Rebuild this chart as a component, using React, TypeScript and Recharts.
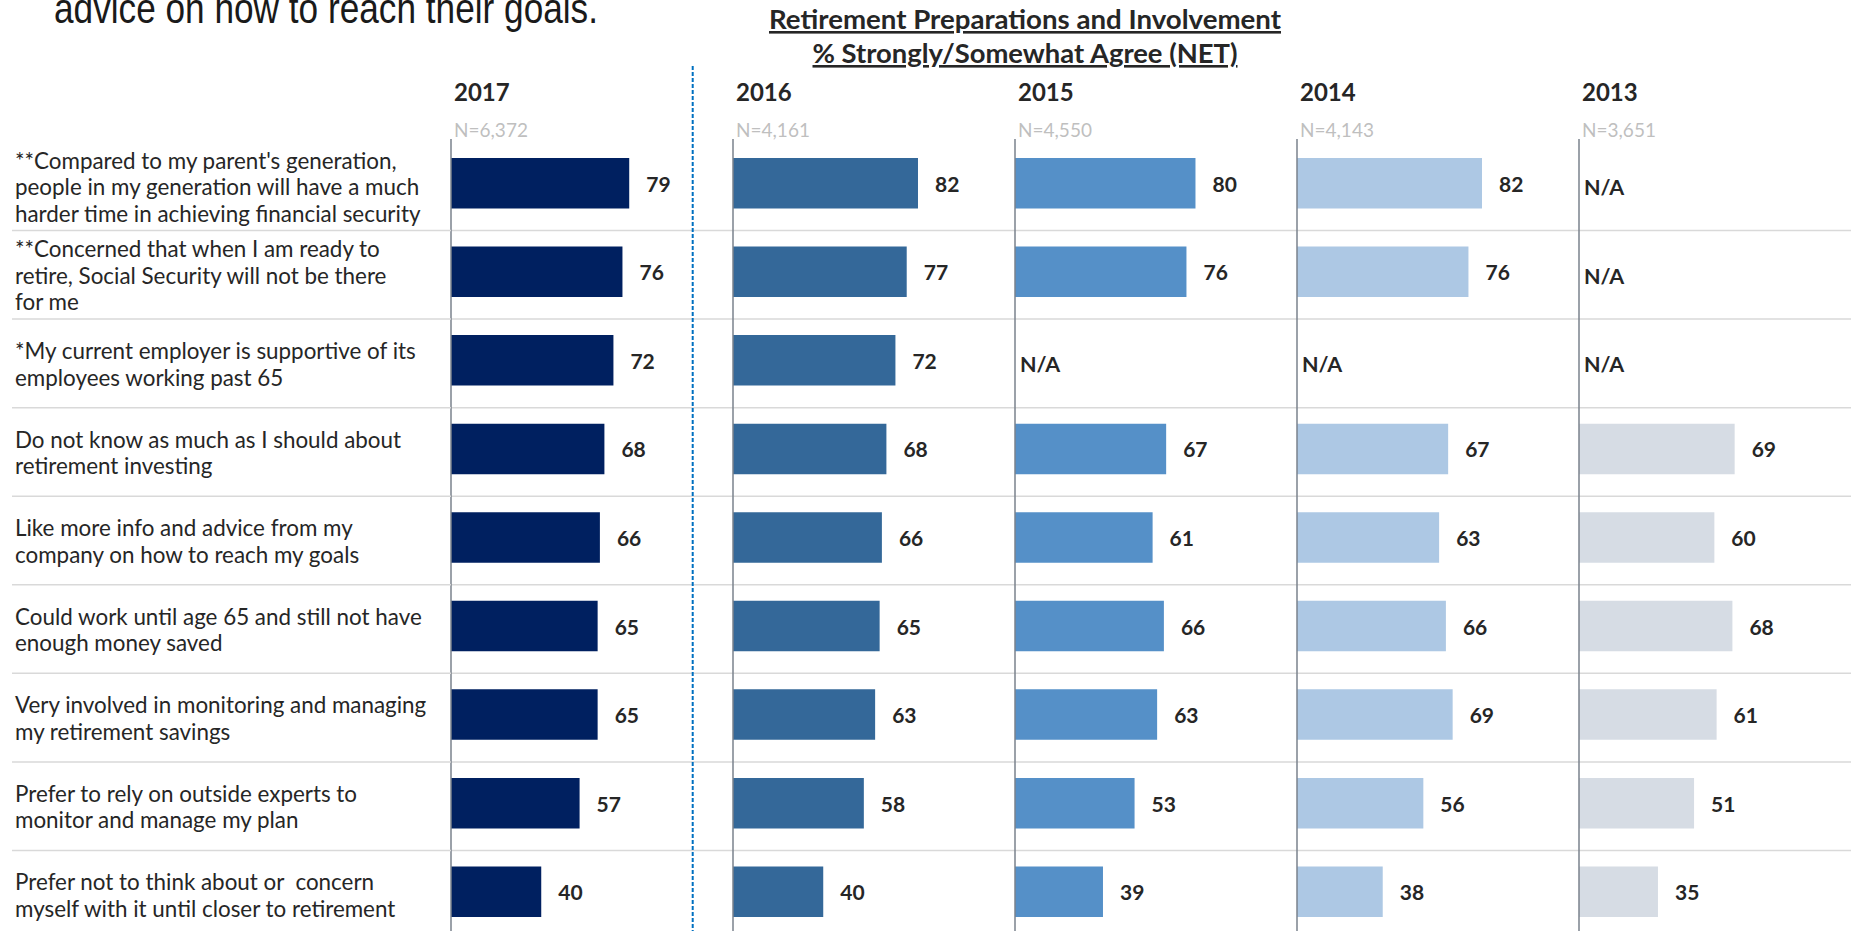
import { BarChart, Bar, XAxis, YAxis, CartesianGrid, LabelList, ReferenceLine } from 'recharts';

// row labels, line breaks as in the slide
const categories = [
  "**Compared to my parent's generation,\npeople in my generation will have a much\nharder time in achieving financial security",
  "**Concerned that when I am ready to\nretire, Social Security will not be there\nfor me",
  "*My current employer is supportive of its\nemployees working past 65",
  "Do not know as much as I should about\nretirement investing",
  "Like more info and advice from my\ncompany on how to reach my goals",
  "Could work until age 65 and still not have\nenough money saved",
  "Very involved in monitoring and managing\nmy retirement savings",
  "Prefer to rely on outside experts to\nmonitor and manage my plan",
  "Prefer not to think about or  concern\nmyself with it until closer to retirement",
];

const years = ['2017', '2016', '2015', '2014', '2013'];
const sampleSizes = ['N=6,372', 'N=4,161', 'N=4,550', 'N=4,143', 'N=3,651'];

const values2017 = [79, 76, 72, 68, 66, 65, 65, 57, 40];
const values2016 = [82, 77, 72, 68, 66, 65, 63, 58, 40];
const values2015 = [80, 76, null, 67, 61, 66, 63, 53, 39];
const values2014 = [82, 76, null, 67, 63, 66, 69, 56, 38];
const values2013 = [null, null, null, 69, 60, 68, 61, 51, 35];

const seriesValues = [values2017, values2016, values2015, values2014, values2013];
const colors = ['#002060', '#346899', '#5590c8', '#adc8e4', '#d6dce4'];

const FONT = "Lato, 'Noto Sans', sans-serif";
const TEXT = '#262626';
const LABEL_W = 451;
const PANEL_W = 282;
const CHART_TOP = 139;
const CHART_H = 797;
const BAND = CHART_H / categories.length;
const separators = categories.slice(1).map((_, i) => (i + 1) * BAND + 3);

const renderCategoryTick = (props: any) => {
    const { y, payload } = props;
    const idx = categories.indexOf(payload.value);
    const lines = String(payload.value).split('\n');
    const n = lines.length;
    return (
        <g>
            {idx > 0 && (
                <line x1={12} x2={LABEL_W} y1={y - BAND / 2 + 3} y2={y - BAND / 2 + 3} stroke="#d9d9d9" strokeWidth={1.5} />
            )}
            <text fontFamily={FONT} fontSize={22.4} fill={TEXT}>
                {lines.map((l, k) => (
                    <tspan key={k} x={15} y={y + 12 + (k - (n - 1) / 2) * 26.5} style={{ whiteSpace: 'pre' }}>{l}</tspan>
                ))}
            </text>
        </g>
    );
};

const renderNaLabel = (props: any) => {
    const vb = props.viewBox || {};
    return (
        <text x={Number(vb.x) + 5} y={Number(vb.y) + 4} dominantBaseline="central" fontFamily={FONT} fontSize={21.5} fontWeight={700} fill={TEXT}>
            N/A
        </text>
    );
};

const renderValueLabel = (props: any) => {
    const { x, y, width, height, value } = props;
    if (value == null) return null;
    return (
        <text x={Number(x) + Number(width) + 17} y={Number(y) + Number(height) / 2} dominantBaseline="central" fontFamily={FONT} fontSize={21} fontWeight={700} fill={TEXT}>
            {value}
        </text>
    );
};

const Panel = ({ index }: { index: number }) => {
    const first = index === 0;
    const axisX = LABEL_W + index * PANEL_W;
    const values = seriesValues[index];
    const data = categories.map((category, i) => ({ category, value: values[i] }));
    const missing = categories.filter((_, i) => values[i] == null);

    return (
        <div style={{ position: 'absolute', left: first ? 0 : axisX - 2, top: CHART_TOP }}>
            <BarChart
                layout="vertical"
                width={first ? LABEL_W + PANEL_W : PANEL_W + 2}
                height={CHART_H}
                data={data}
                margin={{ top: 0, right: 0, bottom: 0, left: first ? 0 : 2 }}
                barSize={50.5}
            >
                <CartesianGrid vertical={false} stroke="#d9d9d9" strokeWidth={1.5} horizontalPoints={separators} />
                <XAxis type="number" domain={[0, 125]} hide />
                <YAxis
                    type="category"
                    dataKey="category"
                    width={first ? LABEL_W : 0}
                    axisLine={false}
                    tickLine={false}
                    tick={first ? renderCategoryTick : false}
                    interval={0}
                />
                <Bar dataKey="value" fill={colors[index]} isAnimationActive={false}>
                    <LabelList dataKey="value" content={renderValueLabel} />
                </Bar>
                <ReferenceLine x={0} stroke="#7a828c" strokeWidth={1.5} ifOverflow="visible" />
                {missing.map((c) => (
                    <ReferenceLine key={c} y={c} stroke="none" ifOverflow="visible" label={renderNaLabel} />
                ))}
            </BarChart>
        </div>
    );
};

export default function App() {
    return (
        <div style={{ position: 'absolute', left: 0, top: 0, width: 1851, height: 931, overflow: 'hidden', background: '#fff' }}>
            {years.map((_, i) => <Panel key={i} index={i} />)}
            <svg width={1851} height={931} style={{ position: 'absolute', left: 0, top: 0, pointerEvents: 'none' }}>
                <text x={54} y={23} fontFamily="'Liberation Sans Narrow', 'Liberation Sans', Arial, sans-serif" fontSize={42} fill="#1a1a1a" textLength={544} lengthAdjust="spacingAndGlyphs">
                    advice on how to reach their goals.
                </text>
                <text x={1025} y={29} textAnchor="middle" fontFamily={FONT} fontSize={26} fontWeight={700} fill={TEXT} textLength={512} lengthAdjust="spacingAndGlyphs" style={{ textDecoration: 'underline' }}>
                    Retirement Preparations and Involvement
                </text>
                <text x={1025} y={63} textAnchor="middle" fontFamily={FONT} fontSize={26} fontWeight={700} fill={TEXT} textLength={425} lengthAdjust="spacingAndGlyphs" style={{ textDecoration: 'underline' }}>
                    % Strongly/Somewhat Agree (NET)
                </text>
                {years.map((year, i) => (
                    <g key={year}>
                        <text x={LABEL_W + i * PANEL_W + 3} y={101} fontFamily={FONT} fontSize={24} fontWeight={700} fill={TEXT}>{year}</text>
                        <text x={LABEL_W + i * PANEL_W + 3} y={137} fontFamily={FONT} fontSize={19} fill="#bfbfbf">{sampleSizes[i]}</text>
                    </g>
                ))}
                <line x1={692.7} x2={692.7} y1={66} y2={931} stroke="#0070c0" strokeWidth={2} strokeDasharray="4 2" />
            </svg>
        </div>
    );
}
